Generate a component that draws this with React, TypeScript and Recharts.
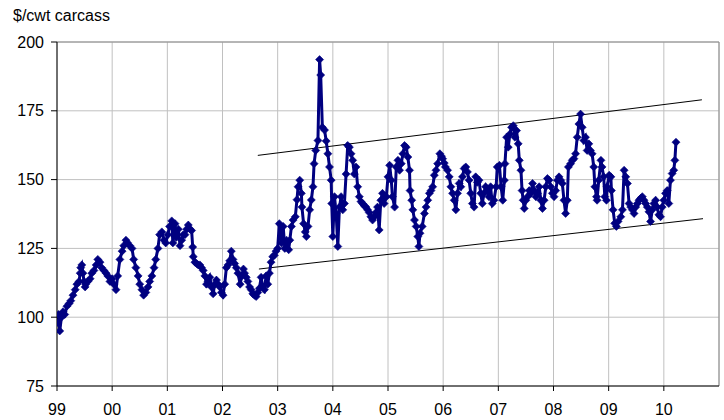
import React from 'react';
import { LineChart, Line, XAxis, YAxis, CartesianGrid, ReferenceLine } from 'recharts';

const dates = [
  1999.00, 1999.03, 1999.05, 1999.08, 1999.11, 1999.14, 1999.18, 1999.22, 1999.25, 1999.29,
  1999.33, 1999.36, 1999.40, 1999.42, 1999.43, 1999.45, 1999.47, 1999.49, 1999.51, 1999.52,
  1999.56, 1999.60, 1999.63, 1999.67, 1999.71, 1999.74, 1999.78, 1999.81, 1999.85, 1999.89,
  1999.92, 1999.96, 2000.00, 2000.03, 2000.07, 2000.10, 2000.14, 2000.18, 2000.21, 2000.25,
  2000.28, 2000.32, 2000.36, 2000.39, 2000.43, 2000.47, 2000.50, 2000.54, 2000.57, 2000.61,
  2000.65, 2000.68, 2000.72, 2000.76, 2000.79, 2000.83, 2000.86, 2000.90, 2000.94, 2000.97,
  2001.01, 2001.04, 2001.08, 2001.10, 2001.14, 2001.16, 2001.20, 2001.23, 2001.26, 2001.29,
  2001.32, 2001.35, 2001.38, 2001.41, 2001.44, 2001.46, 2001.47, 2001.50, 2001.53, 2001.56,
  2001.59, 2001.62, 2001.65, 2001.68, 2001.71, 2001.74, 2001.77, 2001.80, 2001.83, 2001.86,
  2001.89, 2001.92, 2001.95, 2001.98, 2002.01, 2002.04, 2002.07, 2002.10, 2002.13, 2002.16,
  2002.19, 2002.22, 2002.25, 2002.28, 2002.32, 2002.35, 2002.38, 2002.40, 2002.43, 2002.46,
  2002.49, 2002.52, 2002.55, 2002.58, 2002.61, 2002.64, 2002.67, 2002.70, 2002.73, 2002.76,
  2002.79, 2002.82, 2002.85, 2002.88, 2002.91, 2002.94, 2002.97, 2003.00, 2003.03, 2003.07,
  2003.10, 2003.13, 2003.16, 2003.20, 2003.22, 2003.25, 2003.28, 2003.32, 2003.35, 2003.37,
  2003.40, 2003.43, 2003.44, 2003.47, 2003.50, 2003.52, 2003.55, 2003.58, 2003.61, 2003.64,
  2003.66, 2003.69, 2003.73, 2003.76, 2003.78, 2003.81, 2003.85, 2003.88, 2003.91, 2003.94,
  2003.97, 2003.98, 2004.00, 2004.03, 2004.06, 2004.09, 2004.12, 2004.15, 2004.18, 2004.21,
  2004.24, 2004.27, 2004.30, 2004.33, 2004.36, 2004.39, 2004.42, 2004.45, 2004.48, 2004.51,
  2004.54, 2004.57, 2004.60, 2004.63, 2004.66, 2004.69, 2004.72, 2004.75, 2004.78, 2004.81,
  2004.84, 2004.87, 2004.90, 2004.93, 2004.97, 2005.00, 2005.03, 2005.06, 2005.08, 2005.12,
  2005.15, 2005.18, 2005.21, 2005.24, 2005.27, 2005.30, 2005.33, 2005.36, 2005.39, 2005.40,
  2005.43, 2005.45, 2005.48, 2005.51, 2005.54, 2005.56, 2005.58, 2005.62, 2005.66, 2005.69,
  2005.72, 2005.75, 2005.78, 2005.81, 2005.84, 2005.87, 2005.90, 2005.94, 2005.97, 2005.99,
  2006.02, 2006.04, 2006.08, 2006.11, 2006.14, 2006.17, 2006.20, 2006.23, 2006.26, 2006.29,
  2006.32, 2006.35, 2006.38, 2006.41, 2006.44, 2006.47, 2006.50, 2006.53, 2006.56, 2006.59,
  2006.62, 2006.65, 2006.68, 2006.71, 2006.74, 2006.77, 2006.80, 2006.83, 2006.86, 2006.89,
  2006.92, 2006.96, 2006.98, 2007.02, 2007.05, 2007.08, 2007.11, 2007.12, 2007.15, 2007.18,
  2007.21, 2007.24, 2007.27, 2007.30, 2007.33, 2007.36, 2007.38, 2007.41, 2007.43, 2007.45,
  2007.47, 2007.50, 2007.53, 2007.56, 2007.59, 2007.62, 2007.65, 2007.68, 2007.71, 2007.74,
  2007.77, 2007.80, 2007.83, 2007.86, 2007.89, 2007.92, 2007.95, 2007.98, 2008.01, 2008.04,
  2008.07, 2008.10, 2008.13, 2008.16, 2008.19, 2008.22, 2008.25, 2008.27, 2008.31, 2008.34,
  2008.37, 2008.40, 2008.43, 2008.46, 2008.49, 2008.52, 2008.55, 2008.58, 2008.61, 2008.64,
  2008.67, 2008.70, 2008.73, 2008.75, 2008.78, 2008.79, 2008.82, 2008.86, 2008.88, 2008.91,
  2008.93, 2008.96, 2008.97, 2009.01, 2009.04, 2009.05, 2009.08, 2009.11, 2009.14, 2009.17,
  2009.22, 2009.25, 2009.28, 2009.31, 2009.34, 2009.37, 2009.40, 2009.43, 2009.46, 2009.49,
  2009.52, 2009.55, 2009.58, 2009.61, 2009.64, 2009.67, 2009.70, 2009.73, 2009.76, 2009.79,
  2009.82, 2009.85, 2009.88, 2009.91, 2009.94, 2009.97, 2010.00, 2010.03, 2010.06, 2010.09,
  2010.12, 2010.15, 2010.18, 2010.20, 2010.22,
];

const prices = [
  98, 101, 95, 100, 102, 101, 104, 105, 106, 108,
  110, 112, 113, 116, 118, 119, 116, 113, 111, 112,
  113, 114, 116, 117, 119, 121, 120, 118, 117, 116,
  115, 113, 114, 112, 110, 115, 121, 124, 126, 128,
  127, 126, 125, 121, 118, 115, 112, 110, 108, 109,
  111, 113, 115, 118, 121, 125, 130, 131, 128, 127,
  130, 133, 135, 127, 134, 129, 132, 126, 128, 130,
  130, 132, 133.5, 132, 131.5, 125.5, 122, 120, 119.5, 119,
  119, 118, 117, 115, 112, 113, 114.5, 111, 108.5, 112,
  113.5, 112, 111, 109, 108, 112, 118, 119, 120.5, 124,
  121, 119.5, 118, 116, 112, 115, 117.5, 116, 114.5, 113,
  111, 110, 108.5, 108, 107.5, 109, 110.5, 114.5, 111, 110,
  115, 112, 116, 120, 122, 122.5, 124, 125, 134, 127,
  133, 125, 128, 124.5, 128, 133, 135.3, 136.5, 142.7, 147.4,
  149.8, 145, 140, 134, 131, 129.3, 133, 139, 142.6, 147.4,
  155.8, 160.6, 164.2, 193.6, 188, 169, 168, 164, 159.4, 154.6,
  149.8, 141.3, 129.3, 143.8, 137.7, 125.7, 140, 143.8, 139, 141.3,
  152, 162.4, 161.8, 159.4, 157, 152, 154.6, 147.4, 143.8, 142,
  141.3, 140.5, 140, 139, 138, 136.5, 135.3, 136.5, 138, 140,
  131.7, 142.5, 145, 141.3, 143.8, 151, 155.2, 149.8, 143.8, 140,
  154.6, 157, 153.4, 155.8, 159.4, 162.4, 161.8, 158.2, 153.4, 146,
  142.5, 139, 135.3, 133, 129.3, 125.7, 130.5, 133, 137.7, 140,
  142.5, 145, 146, 147.4, 151.6, 153.4, 155.8, 159.4, 158.5, 157.6,
  156, 154.6, 153.4, 151, 147.4, 145, 142.5, 139, 145, 148.6,
  147.4, 151, 154, 154.6, 152.8, 149.8, 145, 141.3, 140, 151,
  149, 149.8, 145, 141.3, 145, 147.4, 146, 143.8, 147.4, 141.3,
  142.5, 147.4, 154.6, 155.2, 147.4, 142.5, 149.8, 155.8, 165.4, 161.8,
  166.6, 169, 169.6, 165.4, 167.8, 163, 157, 153.4, 146, 142.5,
  139.5, 142.5, 143.8, 146, 145, 148.6, 146, 143.8, 145, 147.4,
  142.5, 139.5, 142.5, 147.4, 150.4, 149.8, 147.4, 145, 143.8, 146,
  149.8, 151, 149.8, 148.6, 142.5, 137.7, 142.5, 154.6, 155.8, 157,
  157.6, 159.4, 165.4, 170.2, 173.8, 169, 164.2, 165.4, 160.6, 163,
  160.6, 159.4, 154.6, 147.4, 143.8, 142.5, 149.8, 157, 154.6, 151,
  143.8, 142.5, 147.4, 151.6, 151, 146, 139, 134.1, 133, 134.8,
  136.5, 139, 153.4, 151, 148.6, 141.3, 140, 139, 137.7, 140,
  141.3, 142.5, 143.2, 143.8, 142.5, 141.3, 140, 138.3, 134.8, 139,
  141.3, 142.5, 140, 137.2, 136.5, 140, 142.5, 145, 146, 141.3,
  149.8, 152.2, 153.4, 157, 163.6,
];

const yearTicks = [1999, 2000, 2001, 2002, 2003, 2004, 2005, 2006, 2007, 2008, 2009, 2010];
const yearLabels = ['99', '00', '01', '02', '03', '04', '05', '06', '07', '08', '09', '10'];
const priceTicks = [75, 100, 125, 150, 175, 200];
const upperTrend = [{ x: 2002.64, y: 158.8 }, { x: 2010.69, y: 179.0 }];
const lowerTrend = [{ x: 2002.66, y: 117.5 }, { x: 2010.71, y: 135.8 }];

const data = dates.map((d, i) => ({ date: d, price: prices[i] }));

const NAVY = '#000080';
const FONT = '"Liberation Sans", Arial, sans-serif';

const Diamond = (props: any) => {
  const { cx, cy, index } = props;
  if (cx == null || cy == null) return <g key={index} />;
  const r = 4;
  return (
    <path
      key={index}
      d={`M${cx},${cy - r}L${cx + r},${cy}L${cx},${cy + r}L${cx - r},${cy}Z`}
      fill={NAVY}
      stroke={NAVY}
      strokeWidth={0.6}
    />
  );
};

export default function App() {
  return (
    <div
      style={{
        position: 'absolute',
        left: 0,
        top: 0,
        width: 724,
        height: 420,
        background: '#fff',
        fontFamily: FONT,
      }}
    >
      <div style={{ position: 'absolute', left: 13, top: 7, fontSize: 16, lineHeight: 'normal', color: '#000' }}>
        $/cwt carcass
      </div>
      <LineChart width={724} height={420} data={data} margin={{ top: 42, right: 5, left: 0, bottom: 0 }}>
        <CartesianGrid stroke="#c0c0c0" strokeWidth={1} />
        <XAxis
          dataKey="date"
          type="number"
          domain={[1999, 2011]}
          ticks={yearTicks}
          interval={0}
          tickFormatter={(v: number) => yearLabels[yearTicks.indexOf(v)]}
          height={34}
          tickSize={5}
          tickMargin={13}
          axisLine={{ stroke: '#000' }}
          tickLine={{ stroke: '#000' }}
          tick={{ fill: '#000', fontSize: 16, fontFamily: FONT }}
          allowDataOverflow
        />
        <YAxis
          type="number"
          domain={[75, 200]}
          ticks={priceTicks}
          interval={0}
          width={57}
          tickSize={6}
          tickMargin={7}
          axisLine={{ stroke: '#000' }}
          tickLine={{ stroke: '#000' }}
          tick={{ fill: '#000', fontSize: 16, fontFamily: FONT }}
          allowDataOverflow
        />
        <ReferenceLine x={2011} stroke="#8c8c8c" />
        <ReferenceLine y={200} stroke="#8c8c8c" />
        <ReferenceLine segment={upperTrend} stroke="#000" strokeWidth={1} />
        <ReferenceLine segment={lowerTrend} stroke="#000" strokeWidth={1} />
        <Line
          dataKey="price"
          stroke={NAVY}
          strokeWidth={3}
          dot={Diamond}
          activeDot={false}
          isAnimationActive={false}
        />
      </LineChart>
    </div>
  );
}
